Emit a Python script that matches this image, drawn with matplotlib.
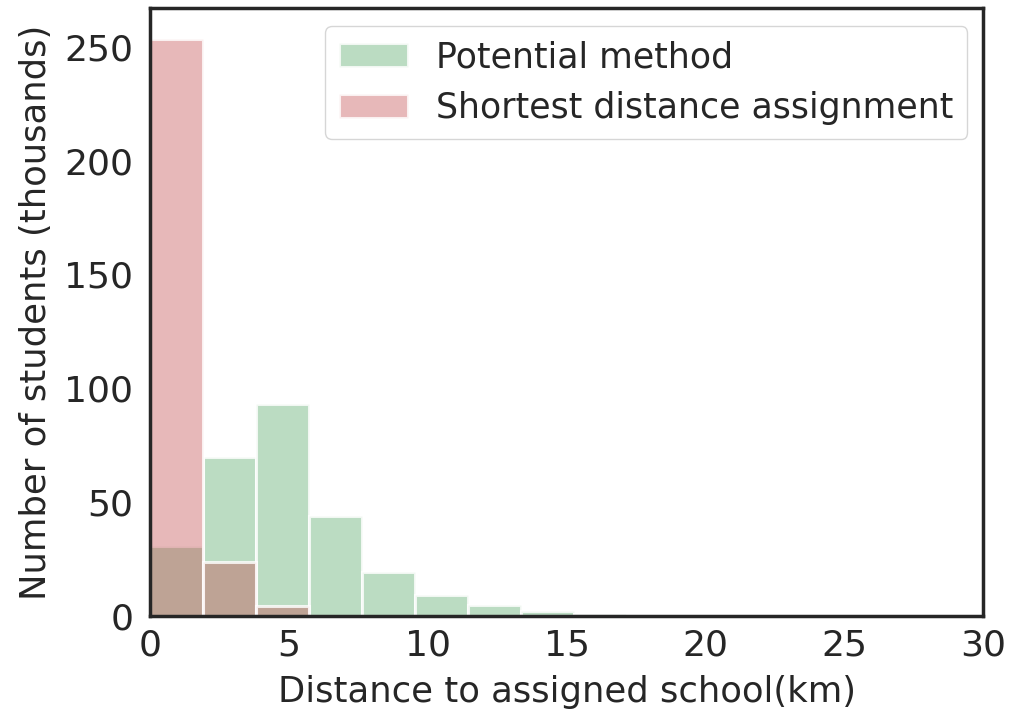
import numpy as np
import matplotlib
matplotlib.use("Agg")
import matplotlib.pyplot as plt
import seaborn as sns
from matplotlib.colors import to_rgba

sns.set_theme(style="white")
plt.rcParams['font.family'] = ['DejaVu Sans']

# Histogram bins (km) and counts (thousands of students)
bin_width = 1.909
bin_edges = np.arange(11) * bin_width
potential_counts = [30.8, 69.9, 93.1, 43.9, 19.5, 9.4, 5.0, 2.4, 1.1, 0.3]
shortest_counts = [253.4, 23.6, 4.4, 0, 0, 0, 0, 0, 0, 0]

green = to_rgba("#55A868", 0.4)
red = to_rgba("#C44E52", 0.4)
edge = (1, 1, 1, 0.8)

fig = plt.figure(figsize=(10.19, 7.19), dpi=100)
ax = fig.add_axes([0.147, 0.143, 0.818, 0.846])

ax.bar(bin_edges[:-1], potential_counts, width=bin_width, align="edge",
       facecolor=green, edgecolor=edge, linewidth=2.2,
       label="Potential method")
ax.bar(bin_edges[:-1], shortest_counts, width=bin_width, align="edge",
       facecolor=red, edgecolor=edge, linewidth=2.2,
       label="Shortest distance assignment")

ax.set_xlim(0, 30)
ax.set_ylim(0, 267)
ax.set_xticks([0, 5, 10, 15, 20, 25, 30])
ax.set_yticks([0, 50, 100, 150, 200, 250])
ax.tick_params(labelsize=26, colors="#262626", length=0)
ax.tick_params(axis="y", pad=12)
ax.tick_params(axis="x", pad=9)

ax.set_xlabel("Distance to assigned school(km)", fontsize=25.5, color="#262626",
              labelpad=9)
ax.set_ylabel("Number of students (thousands)", fontsize=25.5, color="#262626",
              labelpad=8)

for s in ax.spines.values():
    s.set_color("#262626")
    s.set_linewidth(2.5)

leg = ax.legend(loc="upper right", fontsize=25, frameon=True,
                bbox_to_anchor=(0.981, 0.970), borderaxespad=0,
                handlelength=2.0)
for t in leg.get_texts():
    t.set_color("#262626")

fig.savefig("out.png", dpi=100)
